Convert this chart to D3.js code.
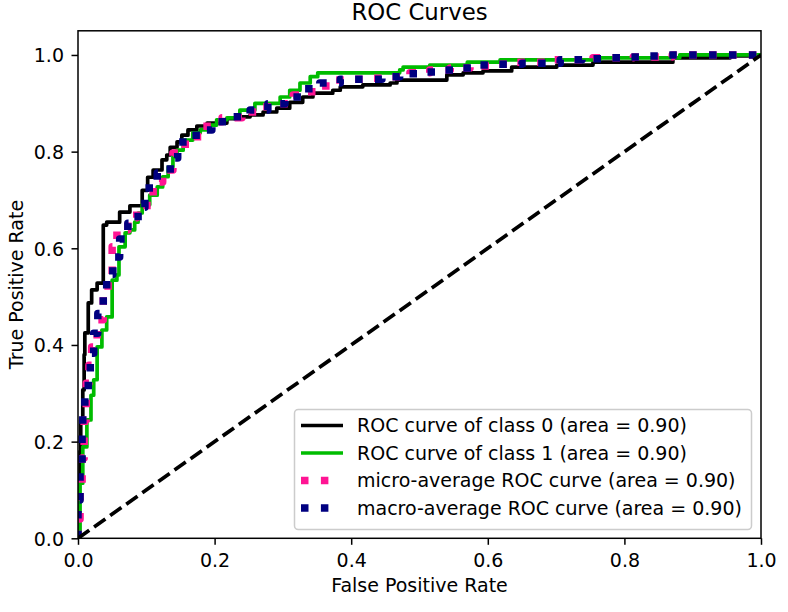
<!DOCTYPE html>
<html><head><meta charset="utf-8">
<script src="https://cdn.jsdelivr.net/npm/d3@7"></script>
<style>body{margin:0;background:#fff} svg{display:block;font-family:"DejaVu Sans",sans-serif}</style>
</head><body><svg id="c" width="788" height="612"></svg>
<script>
// ROC curve of class 0 (jump points: fpr, tpr after jump)
const class0Fpr=[0,0,0.003,0.004,0.007,0.009,0.010,0.015,0.020,0.028,0.037,0.042,0.061,0.076,0.094,0.102,0.110,0.123,0.130,0.135,0.145,0.152,0.161,0.174,0.189,0.218,0.237,0.252,0.271,0.291,0.310,0.329,0.344,0.373,0.384,0.417,0.457,0.467,0.540,0.564,0.593,0.635,0.701,0.754,0.871,0.955,1.0];
const class0Tpr=[0,0.12,0.18,0.245,0.307,0.38,0.425,0.487,0.514,0.528,0.648,0.654,0.675,0.688,0.720,0.747,0.762,0.783,0.793,0.809,0.820,0.834,0.845,0.853,0.859,0.868,0.872,0.876,0.882,0.890,0.902,0.913,0.921,0.927,0.934,0.938,0.942,0.948,0.959,0.963,0.967,0.975,0.979,0.985,0.994,0.998,1.0];
// ROC curve of class 1
const class1Fpr=[0,0.003,0.007,0.013,0.019,0.023,0.028,0.035,0.042,0.050,0.057,0.060,0.069,0.076,0.083,0.088,0.094,0.105,0.116,0.124,0.132,0.139,0.145,0.154,0.168,0.179,0.189,0.203,0.218,0.237,0.259,0.296,0.310,0.325,0.340,0.351,0.471,0.476,0.515,0.570,0.618,0.764,0.881,1.0];
const class1Tpr=[0,0.114,0.189,0.245,0.296,0.328,0.396,0.431,0.458,0.534,0.545,0.603,0.632,0.638,0.654,0.673,0.690,0.710,0.727,0.748,0.768,0.789,0.803,0.824,0.839,0.845,0.855,0.866,0.870,0.886,0.900,0.913,0.927,0.942,0.955,0.963,0.969,0.975,0.979,0.985,0.990,0.994,1.0,1.0];
// micro-average ROC curve
const microFpr=[0,0,0.003,0.006,0.009,0.012,0.016,0.020,0.028,0.037,0.044,0.050,0.057,0.073,0.086,0.101,0.110,0.124,0.139,0.157,0.189,0.211,0.240,0.264,0.291,0.315,0.332,0.351,0.369,0.395,0.423,0.457,0.486,0.515,0.545,0.574,0.603,0.637,0.695,0.754,0.813,0.870,1.0];
const microTpr=[0,0.04,0.099,0.166,0.245,0.321,0.358,0.396,0.452,0.499,0.530,0.603,0.638,0.663,0.679,0.706,0.737,0.762,0.797,0.831,0.862,0.870,0.882,0.893,0.899,0.917,0.924,0.936,0.948,0.950,0.952,0.955,0.963,0.969,0.973,0.977,0.981,0.985,0.990,0.994,0.996,1.0,1.0];
// macro-average ROC curve
const macroFpr=[0,0,0.003,0.006,0.007,0.010,0.015,0.018,0.023,0.029,0.037,0.042,0.051,0.061,0.073,0.088,0.098,0.116,0.135,0.146,0.173,0.196,0.223,0.252,0.278,0.303,0.329,0.354,0.384,0.445,0.471,0.504,0.533,0.559,0.589,0.613,0.650,0.706,0.738,0.767,0.796,0.826,0.855,1.0];
const macroTpr=[0,0.079,0.135,0.218,0.259,0.300,0.341,0.383,0.424,0.465,0.503,0.546,0.582,0.619,0.652,0.685,0.725,0.756,0.787,0.820,0.845,0.862,0.872,0.886,0.899,0.913,0.930,0.942,0.950,0.955,0.961,0.965,0.969,0.973,0.979,0.981,0.983,0.990,0.992,0.994,0.996,0.998,1.0,1.0];
const diagX=[0,1];
const diagY=[0,1];
const xTicks=[0,0.2,0.4,0.6,0.8,1.0];
const yTicks=[0,0.2,0.4,0.6,0.8,1.0];
const legendLabels=["ROC curve of class 0 (area = 0.90)","ROC curve of class 1 (area = 0.90)","micro-average ROC curve (area = 0.90)","macro-average ROC curve (area = 0.90)"];
const titleText="ROC Curves", xLabel="False Positive Rate", yLabel="True Positive Rate";

const svg=d3.select("#c");
const L=78,R=761,T=30.8,B=538.3;
const FS=19;
const x=d3.scaleLinear().domain([0,1]).range([L,R]);
const y=d3.scaleLinear().domain([0,1.05]).range([B,T]);

svg.append("defs").append("clipPath").attr("id","clip").append("rect").attr("x",L).attr("y",T).attr("width",R-L).attr("height",B-T);

const series=[
 {f:class0Fpr,t:class0Tpr,color:"#000000",w:3.7,dash:null},
 {f:class1Fpr,t:class1Tpr,color:"#00bc00",w:3.7,dash:null},
 {f:microFpr,t:microTpr,color:"#ff1493",w:7.5,dash:"7.5,12.4"},
 {f:macroFpr,t:macroTpr,color:"#000080",w:7.5,dash:"7.5,12.4"}
];
const g=svg.append("g").attr("clip-path","url(#clip)");
const stepLine=d3.line().x(d=>x(d[0])).y(d=>y(d[1])).curve(d3.curveStepAfter);
series.forEach(s=>{
  const pts=s.f.map((v,i)=>[v,s.t[i]]);
  g.append("path").attr("d",stepLine(pts)).attr("fill","none").attr("stroke",s.color)
   .attr("stroke-width",s.w).attr("stroke-linejoin","round")
   .attr("stroke-linecap",s.dash?"butt":"square")
   .attr("stroke-dasharray",s.dash);
});
g.append("path").attr("d",d3.line().x(d=>x(d[0])).y(d=>y(d[1]))(diagX.map((v,i)=>[v,diagY[i]])))
 .attr("fill","none").attr("stroke","#000").attr("stroke-width",3.7).attr("stroke-dasharray","13.8,5.9");

// axes
const fmt=d3.format(".1f");
const xa=svg.append("g").attr("transform",`translate(0,${B})`)
 .call(d3.axisBottom(x).tickValues(xTicks).tickFormat(fmt).tickSize(6.5).tickPadding(8.5).tickSizeOuter(0));
const ya=svg.append("g").attr("transform",`translate(${L},0)`)
 .call(d3.axisLeft(y).tickValues(yTicks).tickFormat(fmt).tickSize(6.5).tickPadding(7.5).tickSizeOuter(0));
[xa,ya].forEach(a=>{
  a.select(".domain").remove();
  a.selectAll("line").attr("stroke","#000").attr("stroke-width",1.5);
  a.selectAll("text").attr("font-size",FS).attr("font-family","DejaVu Sans").attr("fill","#000");
});
ya.selectAll("text").attr("dy","0.36em");

// spines
svg.append("rect").attr("x",L).attr("y",T).attr("width",R-L).attr("height",B-T)
 .attr("fill","none").attr("stroke","#000").attr("stroke-width",1.5);

// title and labels
svg.append("text").attr("x",(L+R)/2).attr("y",20).attr("text-anchor","middle").attr("font-size",22.8).text(titleText);
svg.append("text").attr("x",(L+R)/2).attr("y",592).attr("text-anchor","middle").attr("font-size",FS).text(xLabel);
svg.append("text").attr("transform",`translate(23,${(T+B)/2}) rotate(-90)`).attr("text-anchor","middle").attr("font-size",FS).text(yLabel);

// legend
const lg=svg.append("g");
lg.append("rect").attr("x",294.5).attr("y",409.5).attr("width",457).attr("height",120).attr("rx",3.7)
 .attr("fill","#fff").attr("fill-opacity",0.8).attr("stroke","#cccccc").attr("stroke-width",1.5);
const rowY=[425.5,453,480.5,508];
series.forEach((s,i)=>{
  lg.append("line").attr("x1",301).attr("x2",s.dash?339:343).attr("y1",rowY[i]).attr("y2",rowY[i])
   .attr("stroke",s.color).attr("stroke-width",s.w).attr("stroke-dasharray",s.dash).attr("stroke-linecap","butt");
  lg.append("text").attr("x",357).attr("y",rowY[i]).attr("dy","0.36em").attr("font-size",FS).text(legendLabels[i]);
});
</script></body></html>
